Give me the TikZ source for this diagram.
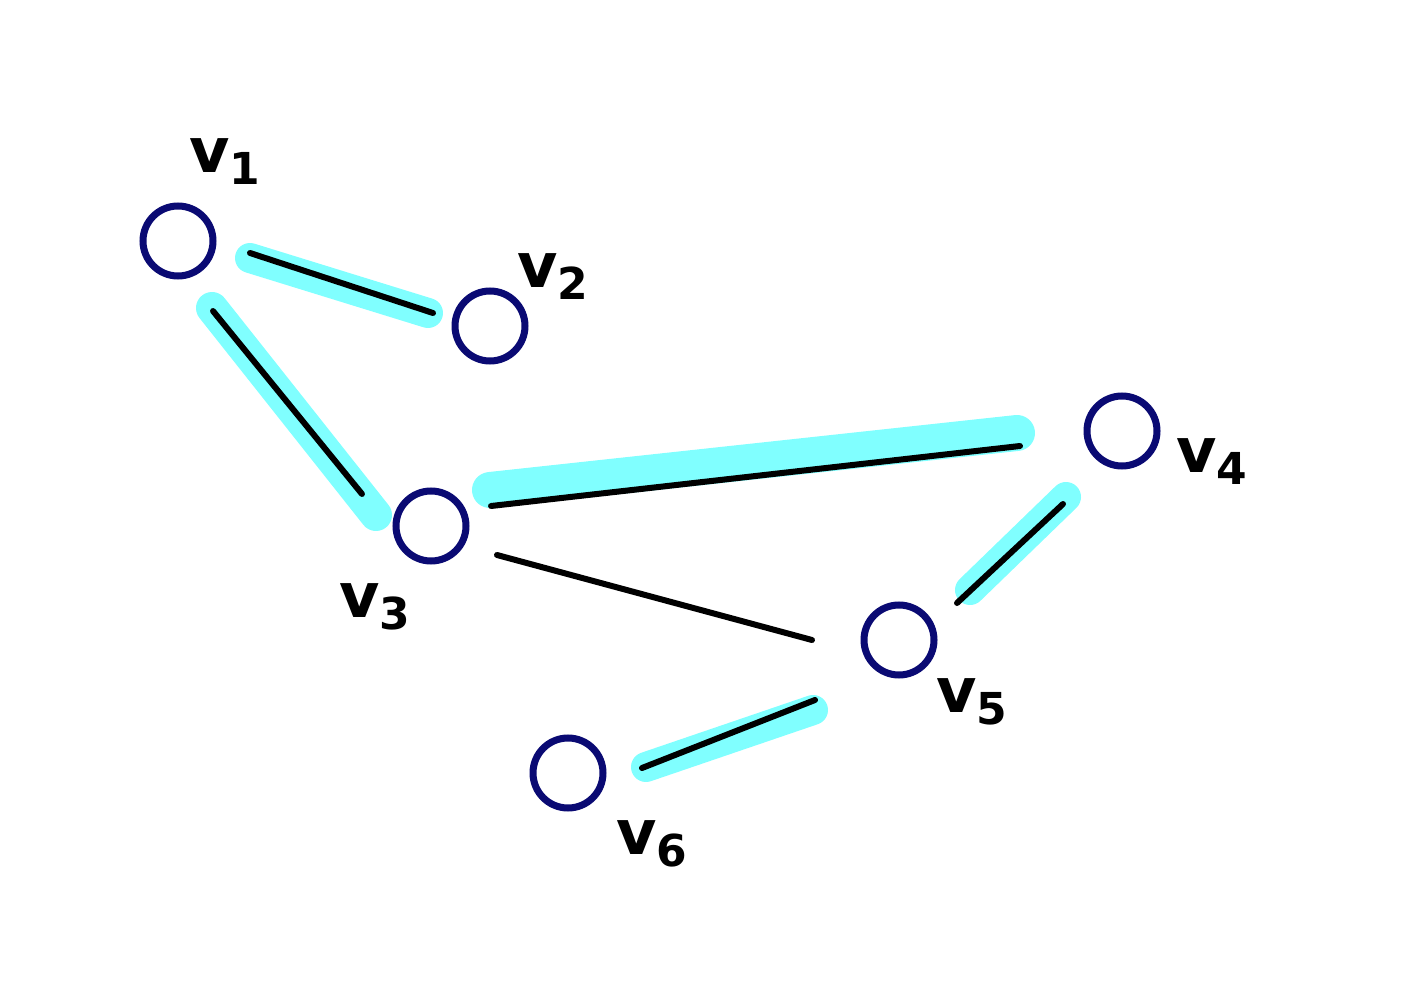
\documentclass[tikz,border=0pt]{standalone}
\usepackage{fontspec}
\setmainfont{DejaVu Sans}
\usetikzlibrary{calc}
\definecolor{navy}{RGB}{10,10,115}
\definecolor{hl}{RGB}{128,255,255}
\tikzset{
  vert/.style={circle,draw=navy,line width=7pt,minimum size=70pt,inner sep=0pt},
  edge/.style={draw=black,line width=6pt,line cap=round},
  glow/.style={draw=hl,line width=30pt,line cap=round},
  lbl/.style={inner sep=0pt,font=\bfseries\fontsize{62}{62}\selectfont}
}
\newcommand{\vlab}[1]{v\raisebox{-12pt}{\fontsize{44}{44}\selectfont #1}}
\begin{document}
\begin{tikzpicture}[x=1pt,y=-1pt]
\useasboundingbox (0,0) rectangle (1401,1000);
\fill[white] (0,0) rectangle (1401,1000);
% vertices
\node[vert] (v1) at (178,241) {};
\node[vert] (v2) at (490,326) {};
\node[vert] (v3) at (431,526) {};
\node[vert] (v4) at (1122,431) {};
\node[vert] (v5) at (899,640) {};
\node[vert] (v6) at (568,773) {};
% highlights
\draw[glow] ($(v1)+(72,17)$) -- ($(v2)+(-62,-13)$);
\draw[glow,line width=32pt] ($(v1)+(34,67)$) -- ($(v3)+(-55,-11)$);
\draw[glow,line width=36pt] ($(v3)+(59,-36)$) -- ($(v4)+(-105,2)$);
\draw[glow] ($(v4)+(-56,66)$) -- ($(v5)+(71,-50)$);
\draw[glow] ($(v5)+(-86,70)$) -- ($(v6)+(78,-6)$);
% edges
\draw[edge] ($(v1)+(72,12)$) -- ($(v2)+(-57,-13)$);
\draw[edge] ($(v1)+(35,70)$) -- ($(v3)+(-69,-32)$);
\draw[edge] ($(v3)+(60,-20)$) -- ($(v4)+(-102,15)$);
\draw[edge] ($(v3)+(66,29)$) -- ($(v5)+(-87,0)$);
\draw[edge] ($(v4)+(-59,73)$) -- ($(v5)+(58,-37)$);
\draw[edge] ($(v5)+(-84,60)$) -- ($(v6)+(74,-5)$);
% labels
\node[lbl] (l1) at (225,162) {\vlab{1}};
\node[lbl] (l2) at (553,277) {\vlab{2}};
\node[lbl] (l3) at (375,607) {\vlab{3}};
\node[lbl] (l4) at (1212,462) {\vlab{4}};
\node[lbl] (l5) at (972,702) {\vlab{5}};
\node[lbl] (l6) at (652,844) {\vlab{6}};
\end{tikzpicture}
\end{document}
